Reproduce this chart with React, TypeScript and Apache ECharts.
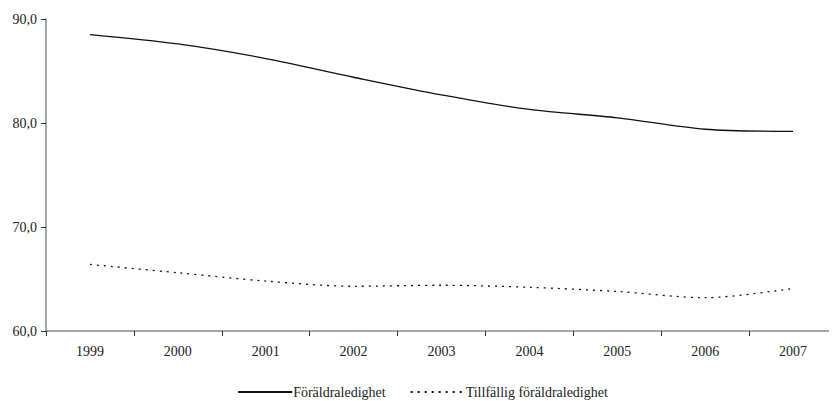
import React, { useEffect, useRef } from "react";
import * as echarts from "echarts";

const years = ["1999", "2000", "2001", "2002", "2003", "2004", "2005", "2006", "2007"];
const foraldraledighet = [88.5, 87.6, 86.2, 84.4, 82.7, 81.3, 80.5, 79.4, 79.2];
const tillfallig = [66.4, 65.6, 64.8, 64.3, 64.4, 64.2, 63.8, 63.2, 64.1];

const FONT = "'Liberation Serif', 'DejaVu Serif', serif";

export default function App() {
  const ref = useRef<HTMLDivElement>(null);
  useEffect(() => {
    if (!ref.current) return;
    const chart = echarts.init(ref.current, undefined, { renderer: "svg" });
    chart.setOption({
      animation: false,
      textStyle: { fontFamily: FONT },
      grid: { left: 38, right: 0, top: 11, bottom: 70, containLabel: false },
      legend: {
        bottom: -3,
        left: "center",
        itemWidth: 54,
        itemHeight: 10,
        itemGap: 24,
        itemStyle: { opacity: 0 },
        textStyle: { fontFamily: FONT, fontSize: 14, color: "#222", padding: [0, 0, 0, -4] },
        data: [
          { name: "Föräldraledighet" },
          { name: "Tillfällig föräldraledighet" },
        ],
      },
      xAxis: {
        type: "category",
        data: years,
        boundaryGap: true,
        axisLine: { lineStyle: { color: "#888", width: 1.5 } },
        axisTick: { show: true, length: 5, inside: false, lineStyle: { color: "#333" } },
        axisLabel: { fontFamily: FONT, fontSize: 14, color: "#222", margin: 13 },
      },
      yAxis: {
        type: "value",
        min: 60,
        max: 90,
        interval: 10,
        axisLine: { show: true, lineStyle: { color: "#888", width: 1.5 } },
        axisTick: { show: true, length: 5, lineStyle: { color: "#333" } },
        splitLine: { show: false },
        axisLabel: {
          fontFamily: FONT,
          fontSize: 14,
          color: "#222",
          margin: 9,
          formatter: (v: number) => v.toFixed(1).replace(".", ","),
        },
      },
      series: [
        {
          name: "Föräldraledighet",
          type: "line",
          data: foraldraledighet,
          smooth: 0.3,
          symbol: "none",
          lineStyle: { color: "#111", width: 1.3, type: "solid" },
          itemStyle: { color: "#111" },
        },
        {
          name: "Tillfällig föräldraledighet",
          type: "line",
          data: tillfallig,
          smooth: 0.3,
          symbol: "none",
          lineStyle: { color: "#111", width: 1.3, type: [2, 5] },
          itemStyle: { color: "#111" },
        },
      ],
    });
    return () => chart.dispose();
  }, []);
  return <div ref={ref} style={{ width: 829, height: 393 }} />;
}
